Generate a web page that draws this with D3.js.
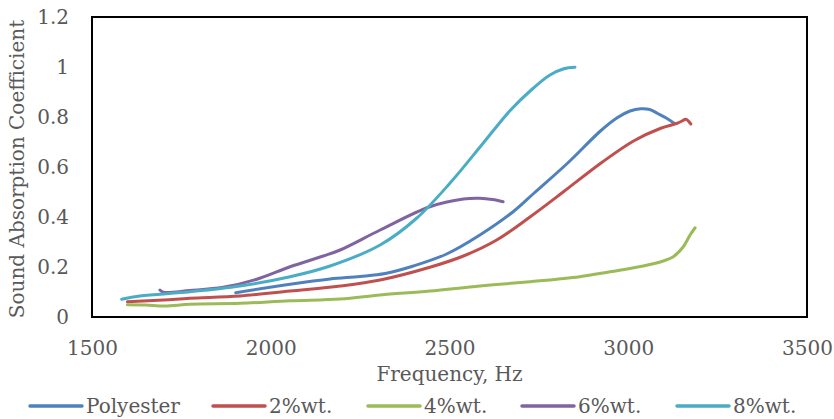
<!DOCTYPE html>
<html>
<head>
<meta charset="utf-8">
<script src="https://cdn.jsdelivr.net/npm/d3@7"></script>
<style>
  html, body { margin: 0; padding: 0; background: #fff; }
  svg { display: block; }
</style>
</head>
<body>
<svg id="chart" width="834" height="419"></svg>
<script>
// ---- Data ----
const seriesNames = ["Polyester", "2%wt.", "4%wt.", "6%wt.", "8%wt."];
const seriesColors = ["#4F81BD", "#C0504D", "#9BBB59", "#8064A2", "#4BACC6"];

const polyesterFreq = [1902, 2054, 2166, 2250, 2320, 2399, 2492, 2585, 2678, 2736, 2830, 2923, 2969, 3005, 3035, 3060, 3081, 3105, 3128];
const polyesterVal  = [0.097, 0.131, 0.152, 0.162, 0.174, 0.204, 0.252, 0.328, 0.421, 0.495, 0.615, 0.745, 0.797, 0.824, 0.833, 0.830, 0.815, 0.797, 0.775];

const wt2Freq = [1599, 1700, 1774, 1914, 2054, 2194, 2306, 2445, 2539, 2632, 2725, 2818, 2923, 3016, 3091, 3137, 3152, 3161, 3175];
const wt2Val  = [0.061, 0.068, 0.075, 0.084, 0.104, 0.124, 0.148, 0.199, 0.244, 0.308, 0.400, 0.500, 0.615, 0.705, 0.755, 0.775, 0.785, 0.791, 0.772];

const wt4Freq = [1599, 1650, 1704, 1774, 1914, 2054, 2194, 2306, 2445, 2585, 2725, 2864, 2949, 3042, 3100, 3126, 3154, 3173, 3187];
const wt4Val  = [0.049, 0.048, 0.044, 0.051, 0.055, 0.065, 0.072, 0.088, 0.104, 0.124, 0.141, 0.161, 0.181, 0.204, 0.225, 0.241, 0.281, 0.328, 0.357];

const wt6Freq = [1690, 1700, 1774, 1867, 1961, 2054, 2147, 2194, 2306, 2445, 2539, 2585, 2620, 2650];
const wt6Val  = [0.108, 0.099, 0.106, 0.119, 0.151, 0.201, 0.244, 0.268, 0.348, 0.441, 0.472, 0.475, 0.470, 0.461];

const wt8Freq = [1583, 1634, 1774, 1914, 2054, 2166, 2306, 2408, 2501, 2594, 2669, 2734, 2781, 2820, 2851];
const wt8Val  = [0.071, 0.084, 0.101, 0.124, 0.161, 0.204, 0.288, 0.395, 0.535, 0.695, 0.825, 0.915, 0.968, 0.993, 0.999];

const xTicks = [1500, 2000, 2500, 3000, 3500];
const yTicks = [0, 0.2, 0.4, 0.6, 0.8, 1, 1.2];
const yTickLabels = ["0", "0.2", "0.4", "0.6", "0.8", "1", "1.2"];
const xTitle = "Frequency, Hz";
const yTitle = "Sound Absorption Coefficient";

const allFreq = [polyesterFreq, wt2Freq, wt4Freq, wt6Freq, wt8Freq];
const allVal = [polyesterVal, wt2Val, wt4Val, wt6Val, wt8Val];

// ---- Layout ----
const plot = { left: 92, top: 17, right: 807, bottom: 317 };
const font = "'DejaVu Serif', 'Liberation Serif', serif";
const textColor = "#595959";

const svg = d3.select("#chart");
const x = d3.scaleLinear().domain([1500, 3500]).range([plot.left, plot.right]);
const y = d3.scaleLinear().domain([0, 1.2]).range([plot.bottom, plot.top]);

// Y tick labels
const yAxis = d3.axisLeft(y).tickValues(yTicks).tickSize(0).tickPadding(0)
  .tickFormat((d, i) => yTickLabels[i]);
const gy = svg.append("g").attr("transform", `translate(${plot.left - 23},0)`).call(yAxis);
gy.select(".domain").remove();
gy.selectAll("text").attr("font-family", font).attr("font-size", 20).attr("fill", textColor);

// X tick labels
const xAxis = d3.axisBottom(x).tickValues(xTicks).tickSize(0).tickPadding(0).tickFormat(d3.format("d"));
const gx = svg.append("g").attr("transform", `translate(0,${plot.bottom + 24})`).call(xAxis);
gx.select(".domain").remove();
gx.selectAll("text").attr("font-family", font).attr("font-size", 20).attr("fill", textColor);

// Plot border
svg.append("rect")
  .attr("x", plot.left).attr("y", plot.top)
  .attr("width", plot.right - plot.left).attr("height", plot.bottom - plot.top)
  .attr("fill", "none").attr("stroke", "#000").attr("stroke-width", 2);

// Lines
const line = d3.line().x(d => x(d[0])).y(d => y(d[1])).curve(d3.curveCatmullRom.alpha(0.5));
seriesNames.forEach((name, i) => {
  const pts = allFreq[i].map((f, j) => [f, allVal[i][j]]);
  svg.append("path")
    .datum(pts)
    .attr("d", line)
    .attr("fill", "none")
    .attr("stroke", seriesColors[i])
    .attr("stroke-width", 3)
    .attr("stroke-linecap", "round")
    .attr("stroke-linejoin", "round");
});

// Axis titles
svg.append("text")
  .attr("x", (plot.left + plot.right) / 2)
  .attr("y", 381)
  .attr("text-anchor", "middle")
  .attr("font-family", font).attr("font-size", 20).attr("fill", textColor)
  .text(xTitle);

svg.append("text")
  .attr("transform", `translate(24,${(plot.top + plot.bottom) / 2 + 2}) rotate(-90)`)
  .attr("text-anchor", "middle")
  .attr("font-family", font).attr("font-size", 20).attr("fill", textColor)
  .text(yTitle);

// Legend
const legendX = [30, 213, 368, 522, 677];
const legendY = 406;
seriesNames.forEach((name, i) => {
  const g = svg.append("g").attr("transform", `translate(${legendX[i]},${legendY})`);
  g.append("line").attr("x1", 0).attr("x2", 52).attr("y1", 0).attr("y2", 0)
    .attr("stroke", seriesColors[i]).attr("stroke-width", 3.5).attr("stroke-linecap", "round");
  g.append("text").attr("x", 56).attr("y", 7)
    .attr("font-family", font).attr("font-size", 20).attr("fill", textColor)
    .text(name);
});
</script>
</body>
</html>
